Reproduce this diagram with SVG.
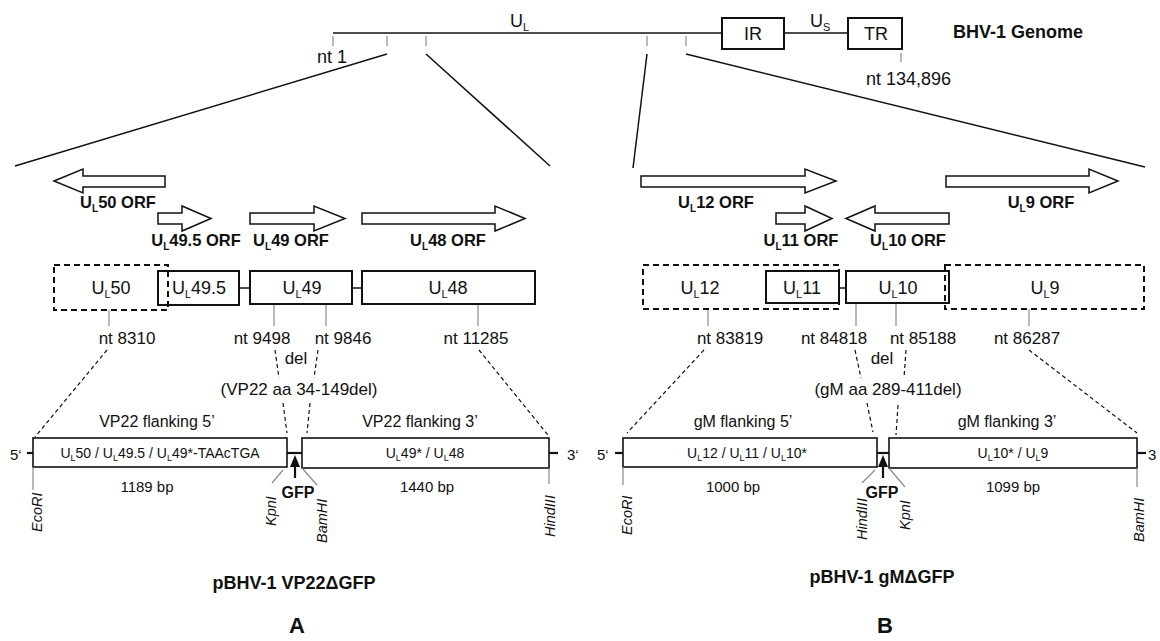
<svg xmlns="http://www.w3.org/2000/svg" width="1160" height="641" viewBox="0 0 1160 641">
<style>
text{font-family:"Liberation Sans",Arial,sans-serif;fill:#111}
.b{font-weight:bold}
.i{font-style:italic}
.m{text-anchor:middle}
.blk{fill:#fff;stroke:#111;stroke-width:1.5}
.box{fill:#fff;stroke:#111;stroke-width:2}
.dbox{fill:none;stroke:#111;stroke-width:2;stroke-dasharray:6 4}
.pbox{fill:#fff;stroke:#111;stroke-width:1.6}
.tick{stroke:#8a8a8a;stroke-width:1.2;fill:none}
.dash{stroke:#111;stroke-width:1.2;stroke-dasharray:4 3;fill:none}
.ln{stroke:#111;stroke-width:1.5;fill:none}
.thk{stroke:#111;stroke-width:2.2;fill:none}
.g18{font-size:18px}
.orf{font-size:16.5px;font-weight:bold}
.nt{font-size:17px}
.fl{font-size:16px}
.in{font-size:14px}
.bp{font-size:15px}
.enz{font-size:14.5px;font-style:italic}
</style>

<g id="connectors">
  <!-- genome zoom lines -->
  <line class="ln" x1="387" y1="54" x2="15" y2="166"/>
  <line class="ln" x1="426" y1="54" x2="550" y2="166"/>
  <line class="ln" x1="647" y1="54" x2="633" y2="168"/>
  <line class="ln" x1="686" y1="54" x2="1145" y2="167"/>
  <!-- left dashed mapping -->
  <line class="dash" x1="107" y1="350" x2="35" y2="437"/>
  <line class="dash" x1="275" y1="350" x2="279" y2="378"/>
  <line class="dash" x1="318" y1="350" x2="314" y2="378"/>
  <line class="dash" x1="283" y1="403" x2="287" y2="433"/>
  <line class="dash" x1="310" y1="403" x2="307" y2="433"/>
  <line class="dash" x1="479" y1="350" x2="548" y2="435"/>
  <!-- right dashed mapping -->
  <line class="dash" x1="704" y1="350" x2="627" y2="433"/>
  <line class="dash" x1="855" y1="350" x2="861" y2="378"/>
  <line class="dash" x1="906" y1="350" x2="904" y2="378"/>
  <line class="dash" x1="867" y1="403" x2="873" y2="432"/>
  <line class="dash" x1="898" y1="405" x2="896" y2="435"/>
  <line class="dash" x1="1029" y1="350" x2="1137" y2="433"/>
  <!-- gene box ticks -->
  <line class="tick" x1="109" y1="310" x2="109" y2="326"/>
  <line class="tick" x1="274" y1="304" x2="274" y2="326"/>
  <line class="tick" x1="326" y1="304" x2="326" y2="326"/>
  <line class="tick" x1="478" y1="304" x2="478" y2="326"/>
  <line class="tick" x1="708" y1="309" x2="708" y2="326"/>
  <line class="tick" x1="856" y1="303" x2="856" y2="326"/>
  <line class="tick" x1="896" y1="303" x2="896" y2="326"/>
  <line class="tick" x1="1029" y1="309" x2="1029" y2="326"/>
  <!-- gene box links -->
  <line class="ln" x1="239" y1="288" x2="250" y2="288"/>
  <line class="ln" x1="352" y1="288" x2="362" y2="288"/>
  <line class="ln" x1="839" y1="288" x2="846" y2="288"/>
</g>

<g id="genome">
  <line class="ln" x1="333" y1="33" x2="722" y2="33"/>
  <line class="ln" x1="784" y1="33" x2="848" y2="33"/>
  <rect class="box" x="722" y="18" width="62" height="31"/>
  <rect class="box" x="848" y="18" width="54" height="31"/>
  <line class="tick" x1="333" y1="36" x2="333" y2="46"/>
  <line class="tick" x1="387" y1="36" x2="387" y2="46"/>
  <line class="tick" x1="426" y1="36" x2="426" y2="46"/>
  <line class="tick" x1="647" y1="36" x2="647" y2="46"/>
  <line class="tick" x1="686" y1="36" x2="686" y2="46"/>
  <line class="tick" x1="901" y1="53" x2="901" y2="62"/>
  <text class="g18" x="510" y="27">U<tspan font-size="11" dy="4">L</tspan></text>
  <text class="g18" x="810" y="27">U<tspan font-size="11" dy="4">S</tspan></text>
  <text class="g18 m" x="753" y="40">IR</text>
  <text class="g18 m" x="876" y="40">TR</text>
  <text class="g18 m" x="332" y="63">nt 1</text>
  <text class="g18" x="866" y="85">nt 134,896</text>
  <text class="g18 b" x="953" y="38">BHV-1 Genome</text>
</g>

<g id="orf-UL50">
  <polygon class="blk" points="54,181 83,169 83,176 165,176 165,187 83,187 83,193"/>
  <text class="orf m" x="118" y="208">U<tspan font-size="10" dy="4">L</tspan><tspan dy="-4">50 ORF</tspan></text>
</g>
<g id="orf-UL49.5">
  <polygon class="blk" points="158,213 182,213 182,206 211,218.5 182,231 182,224 158,224"/>
  <text class="orf m" x="196" y="246">U<tspan font-size="10" dy="4">L</tspan><tspan dy="-4">49.5 ORF</tspan></text>
</g>
<g id="orf-UL49">
  <polygon class="blk" points="250,213 314,213 314,206 345,218.5 314,231 314,224 250,224"/>
  <text class="orf m" x="291" y="246">U<tspan font-size="10" dy="4">L</tspan><tspan dy="-4">49 ORF</tspan></text>
</g>
<g id="orf-UL48">
  <polygon class="blk" points="362,213 495,213 495,206 525,218.5 495,231 495,224 362,224"/>
  <text class="orf m" x="448" y="246">U<tspan font-size="10" dy="4">L</tspan><tspan dy="-4">48 ORF</tspan></text>
</g>
<g id="orf-UL12">
  <polygon class="blk" points="641,176 805,176 805,169 836,181 805,193 805,187 641,187"/>
  <text class="orf m" x="716" y="208">U<tspan font-size="10" dy="4">L</tspan><tspan dy="-4">12 ORF</tspan></text>
</g>
<g id="orf-UL9">
  <polygon class="blk" points="946,176 1089,176 1089,169 1118,181 1089,193 1089,187 946,187"/>
  <text class="orf m" x="1041" y="208">U<tspan font-size="10" dy="4">L</tspan><tspan dy="-4">9 ORF</tspan></text>
</g>
<g id="orf-UL11">
  <polygon class="blk" points="776,213 805,213 805,206 832,218.5 805,231 805,224 776,224"/>
  <text class="orf m" x="801" y="246">U<tspan font-size="10" dy="4">L</tspan><tspan dy="-4">11 ORF</tspan></text>
</g>
<g id="orf-UL10">
  <polygon class="blk" points="846,218.5 875,206 875,213 949,213 949,224 875,224 875,231"/>
  <text class="orf m" x="908" y="246">U<tspan font-size="10" dy="4">L</tspan><tspan dy="-4">10 ORF</tspan></text>
</g>

<g id="gene-UL49.5">
  <rect class="box" x="158" y="271" width="81" height="34"/>
  <text class="g18 m" x="199" y="294">U<tspan font-size="11" dy="4">L</tspan><tspan dy="-4">49.5</tspan></text>
</g>
<g id="gene-UL49">
  <rect class="box" x="250" y="271" width="102" height="33"/>
  <text class="g18 m" x="302" y="294">U<tspan font-size="11" dy="4">L</tspan><tspan dy="-4">49</tspan></text>
</g>
<g id="gene-UL48">
  <rect class="box" x="362" y="271" width="173" height="33"/>
  <text class="g18 m" x="448" y="294">U<tspan font-size="11" dy="4">L</tspan><tspan dy="-4">48</tspan></text>
</g>
<g id="gene-UL50">
  <rect class="dbox" x="54" y="265" width="114" height="45"/>
  <text class="g18 m" x="111" y="294">U<tspan font-size="11" dy="4">L</tspan><tspan dy="-4">50</tspan></text>
</g>
<g id="gene-UL11">
  <rect class="box" x="766" y="271" width="73" height="32"/>
  <text class="g18 m" x="802" y="294">U<tspan font-size="11" dy="4">L</tspan><tspan dy="-4">11</tspan></text>
</g>
<g id="gene-UL10">
  <rect class="box" x="846" y="271" width="103" height="32"/>
  <text class="g18 m" x="898" y="294">U<tspan font-size="11" dy="4">L</tspan><tspan dy="-4">10</tspan></text>
</g>
<g id="gene-UL12">
  <rect class="dbox" x="643" y="265" width="196" height="44"/>
  <text class="g18 m" x="700" y="294">U<tspan font-size="11" dy="4">L</tspan><tspan dy="-4">12</tspan></text>
</g>
<g id="gene-UL9">
  <rect class="dbox" x="945" y="265" width="199" height="44"/>
  <text class="g18 m" x="1045" y="294">U<tspan font-size="11" dy="4">L</tspan><tspan dy="-4">9</tspan></text>
</g>

<g id="nt-labels">
  <text class="nt m" x="127" y="344">nt 8310</text>
  <text class="nt m" x="262" y="344">nt 9498</text>
  <text class="nt m" x="343" y="344">nt 9846</text>
  <text class="nt m" x="476" y="344">nt 11285</text>
  <text class="nt m" x="730" y="344">nt 83819</text>
  <text class="nt m" x="834" y="344">nt 84818</text>
  <text class="nt m" x="923" y="344">nt 85188</text>
  <text class="nt m" x="1027" y="344">nt 86287</text>
  <text class="nt m" x="296" y="364">del</text>
  <text class="nt m" x="882" y="364">del</text>
  <text class="nt m" x="299" y="395">(VP22 aa 34-149del)</text>
  <text class="nt m" x="888" y="395">(gM aa 289-411del)</text>
</g>

<g id="plasmid-A">
  <line class="thk" x1="27" y1="453" x2="33" y2="453"/>
  <line class="thk" x1="287" y1="453" x2="302" y2="453"/>
  <line class="thk" x1="549" y1="453" x2="558" y2="453"/>
  <rect class="pbox" x="33" y="438" width="254" height="29"/>
  <rect class="pbox" x="302" y="438" width="247" height="30"/>
  <text class="bp" x="10" y="460">5‘</text>
  <text class="bp" x="567" y="460">3‘</text>
  <text class="fl m" x="157" y="427">VP22 flanking 5’</text>
  <text class="fl m" x="420" y="427">VP22 flanking 3’</text>
  <text class="in m" x="160" y="458">U<tspan font-size="9" dy="3">L</tspan><tspan dy="-3">50 / U</tspan><tspan font-size="9" dy="3">L</tspan><tspan dy="-3">49.5 / U</tspan><tspan font-size="9" dy="3">L</tspan><tspan dy="-3">49*-TAAcTGA</tspan></text>
  <text class="in m" x="425" y="458">U<tspan font-size="9" dy="3">L</tspan><tspan dy="-3">49* / U</tspan><tspan font-size="9" dy="3">L</tspan><tspan dy="-3">48</tspan></text>
  <text class="bp m" x="147" y="492">1189 bp</text>
  <text class="bp m" x="427" y="492">1440 bp</text>
  <line class="thk" x1="295" y1="478" x2="295" y2="463"/>
  <polygon points="295,455 290,467 300,467" fill="#111"/>
  <text class="b m" font-size="16" x="298" y="498">GFP</text>
  <line class="tick" x1="33" y1="467" x2="33" y2="490"/>
  <line class="tick" x1="283" y1="470" x2="272" y2="483"/>
  <line class="tick" x1="302" y1="468" x2="317" y2="485"/>
  <line class="tick" x1="549" y1="468" x2="549" y2="484"/>
  <text class="enz" transform="translate(42,532) rotate(-90)">EcoRI</text>
  <text class="enz" transform="translate(276,526) rotate(-90)">KpnI</text>
  <text class="enz" transform="translate(327,543) rotate(-90)">BamHI</text>
  <text class="enz" transform="translate(555,537) rotate(-90)">HindIII</text>
  <text class="b m" font-size="18" x="294" y="589">pBHV-1 VP22ΔGFP</text>
  <text class="b m" font-size="22" x="297" y="633">A</text>
</g>

<g id="plasmid-B">
  <line class="thk" x1="615" y1="453" x2="623" y2="453"/>
  <line class="thk" x1="877" y1="453" x2="889" y2="453"/>
  <line class="thk" x1="1137" y1="453" x2="1146" y2="453"/>
  <rect class="pbox" x="623" y="438" width="254" height="29"/>
  <rect class="pbox" x="889" y="438" width="248" height="30"/>
  <text class="bp" x="597" y="460">5‘</text>
  <text class="bp" x="1148" y="460">3</text>
  <text class="fl m" x="743" y="427">gM flanking 5’</text>
  <text class="fl m" x="1007" y="427">gM flanking 3’</text>
  <text class="in m" x="747" y="458">U<tspan font-size="9" dy="3">L</tspan><tspan dy="-3">12 / U</tspan><tspan font-size="9" dy="3">L</tspan><tspan dy="-3">11 / U</tspan><tspan font-size="9" dy="3">L</tspan><tspan dy="-3">10*</tspan></text>
  <text class="in m" x="1013" y="458">U<tspan font-size="9" dy="3">L</tspan><tspan dy="-3">10* / U</tspan><tspan font-size="9" dy="3">L</tspan><tspan dy="-3">9</tspan></text>
  <text class="bp m" x="733" y="492">1000 bp</text>
  <text class="bp m" x="1013" y="492">1099 bp</text>
  <line class="thk" x1="883" y1="478" x2="883" y2="463"/>
  <polygon points="883,455 878,467 888,467" fill="#111"/>
  <text class="b m" font-size="16" x="882" y="498">GFP</text>
  <line class="tick" x1="623" y1="467" x2="623" y2="485"/>
  <line class="tick" x1="875" y1="470" x2="862" y2="483"/>
  <line class="tick" x1="889" y1="468" x2="905" y2="487"/>
  <line class="tick" x1="1137" y1="468" x2="1137" y2="487"/>
  <text class="enz" transform="translate(632,535) rotate(-90)">EcoRI</text>
  <text class="enz" transform="translate(867,540) rotate(-90)">HindIII</text>
  <text class="enz" transform="translate(910,530) rotate(-90)">KpnI</text>
  <text class="enz" transform="translate(1144,542) rotate(-90)">BamHI</text>
  <text class="b m" font-size="18" x="882" y="583">pBHV-1 gMΔGFP</text>
  <text class="b m" font-size="22" x="885" y="633">B</text>
</g>
</svg>
